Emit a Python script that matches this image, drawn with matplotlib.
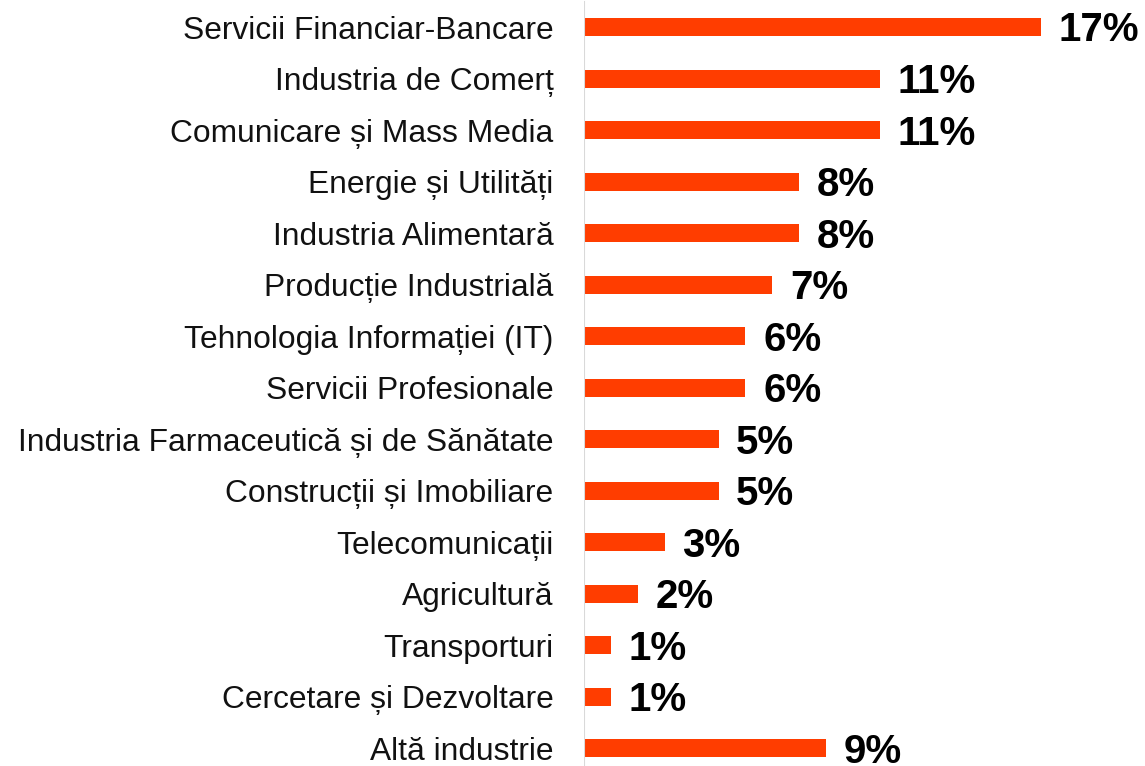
import matplotlib
matplotlib.use("Agg")
import matplotlib.pyplot as plt
import numpy as np

categories = [
    "Servicii Financiar-Bancare",
    "Industria de Comerț",
    "Comunicare și Mass Media",
    "Energie și Utilități",
    "Industria Alimentară",
    "Producție Industrială",
    "Tehnologia Informației (IT)",
    "Servicii Profesionale",
    "Industria Farmaceutică și de Sănătate",
    "Construcții și Imobiliare",
    "Telecomunicații",
    "Agricultură",
    "Transporturi",
    "Cercetare și Dezvoltare",
    "Altă industrie",
]
values = [17, 11, 11, 8, 8, 7, 6, 6, 5, 5, 3, 2, 1, 1, 9]
value_labels = ["17%", "11%", "11%", "8%", "8%", "7%", "6%", "6%", "5%", "5%",
                "3%", "2%", "1%", "1%", "9%"]

BAR_COLOR = "#FF3D00"
W, H = 1145, 766

plt.rcParams["font.family"] = ["Liberation Sans", "DejaVu Sans"]

fig = plt.figure(figsize=(W / 100, H / 100), dpi=100)
ax = fig.add_axes([584 / W, 0, (W - 584) / W, 1])

y = np.arange(len(categories))
ax.barh(y, values, height=0.35, color=BAR_COLOR)

step = 51.52
ax.set_ylim(14 + (H - 748.3) / step, -27 / step)
ax.set_xlim(0, (W - 584) / 26.9)

for yi, v, lab in zip(y, values, value_labels):
    ax.annotate(lab, (v, yi), xytext=(12.7, -2.5), textcoords="offset points",
                ha="left", va="center", fontsize=29, fontweight="bold",
                color="black")

ax.set_yticks(y)
ax.set_yticklabels(categories, fontsize=22.9, color="#111111")
ax.tick_params(axis="y", length=0, pad=22)
ax.set_xticks([])
for s in ax.spines.values():
    s.set_visible(False)
ax.axvline(0, ymin=0, ymax=1 - 2 / H, color="#d9d9d9", linewidth=1.5)

fig.savefig("out.png", dpi=100)
